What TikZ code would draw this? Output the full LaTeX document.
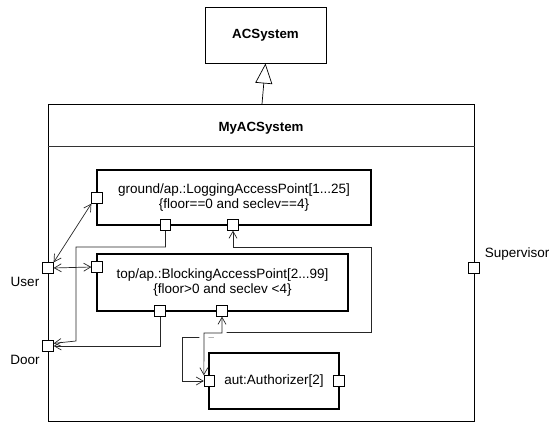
\documentclass[tikz,border=0pt]{standalone}
\usepackage{fontspec}
\setmainfont{Liberation Sans}
\usetikzlibrary{arrows.meta}
\pgfdeclarelayer{wires}
\pgfsetlayers{wires,main}
\begin{document}
\begin{tikzpicture}[x=1pt,y=-1pt,
  font=\fontsize{13.5}{15}\selectfont,
  >={Straight Barb[length=7pt,width=8pt]},
  classbox/.style={draw, line width=1pt, inner sep=0pt, font=\fontsize{13.3}{15}\selectfont\bfseries},
  partbox/.style={draw, line width=1.3pt, inner sep=0pt, align=center},
  port/.style={draw, fill=white, line width=0.8pt, minimum size=10.5pt, inner sep=0pt},
  conn/.style={line width=0.7pt, draw=black!85},
  hop/.style={preaction={draw=white, line width=9pt, -}},
  lbl/.style={inner sep=0pt},
]
\useasboundingbox (0,0) rectangle (550,423);

% classes
\node[classbox, minimum width=121pt, minimum height=56pt] (acs) at (265.5,35) {ACSystem};
\node[draw, line width=1pt, minimum width=426pt, minimum height=317pt, inner sep=0pt] (sys) at (261,262.5) {};
\node[lbl, font=\fontsize{13.3}{15}\selectfont\bfseries] (systitle) at (261,128) {MyACSystem};
\coordinate (sep) at (0,146);
\draw[line width=0.8pt, black!80] (sys.west |- sep) -- (sys.east |- sep);

% generalization
\coordinate (genfoot) at (262,104);
\draw[line width=0.7pt, -{Triangle[open,length=20pt,width=17pt]}] (genfoot) -- (acs.south);

% parts
\node[partbox, minimum width=274pt, minimum height=55pt] (ground) at (234,197.5)
  {ground/ap.:LoggingAccessPoint[1...25]\\\{floor==0 and seclev==4\}};
\node[partbox, minimum width=251pt, minimum height=57pt] (top) at (222.5,282.5)
  {top/ap.:BlockingAccessPoint[2...99]\\\{floor>0 and seclev <4\}};
\node[partbox, minimum width=130pt, minimum height=56pt] (aut) at (274,381) {aut:Authorizer[2]};

% ports
\node[port] (user) at (48,268) {};
\node[port] (door) at (48,346) {};
\node[port] (sup) at (474,268) {};
\node[port] (gp1) at (97,198) {};
\node[port] (gb1) at (165.5,225) {};
\node[port] (gb2) at (233,225) {};
\node[port] (tp1) at (97,267) {};
\node[port] (tb1) at (160,311) {};
\node[port] (tb2) at (222,311) {};
\node[port] (ap1) at (209.5,381) {};
\node[port] (ap2) at (339,381) {};

% port labels
\node[lbl] (userlbl) at (25,282) {User};
\node[lbl] (doorlbl) at (25,360) {Door};
\node[lbl, anchor=east] (suplbl) at (549.5,254) {Supervisor};

% connectors
\begin{pgfonlayer}{wires}
\draw[conn, <->] (user.north east) -- (gp1.south west);
\draw[conn, <->] (user.east) -- (tp1.west);
\draw[conn, ->] (gb1.south) |- (76,247) -- (76,341) -- (door.25);
\draw[conn, ->] (tb1.south) |- (door.east);
\draw[conn, <->] (gb2.south) |- (371,247) -- (371,332) -- (213,332) -- (213,337)
  -- (182,337) |- (ap1.west);
\draw[conn, <->, hop] (tb2.south) -- (222,333) -- (204,333) -- (ap1.north west);
\end{pgfonlayer}
\end{tikzpicture}
\end{document}
